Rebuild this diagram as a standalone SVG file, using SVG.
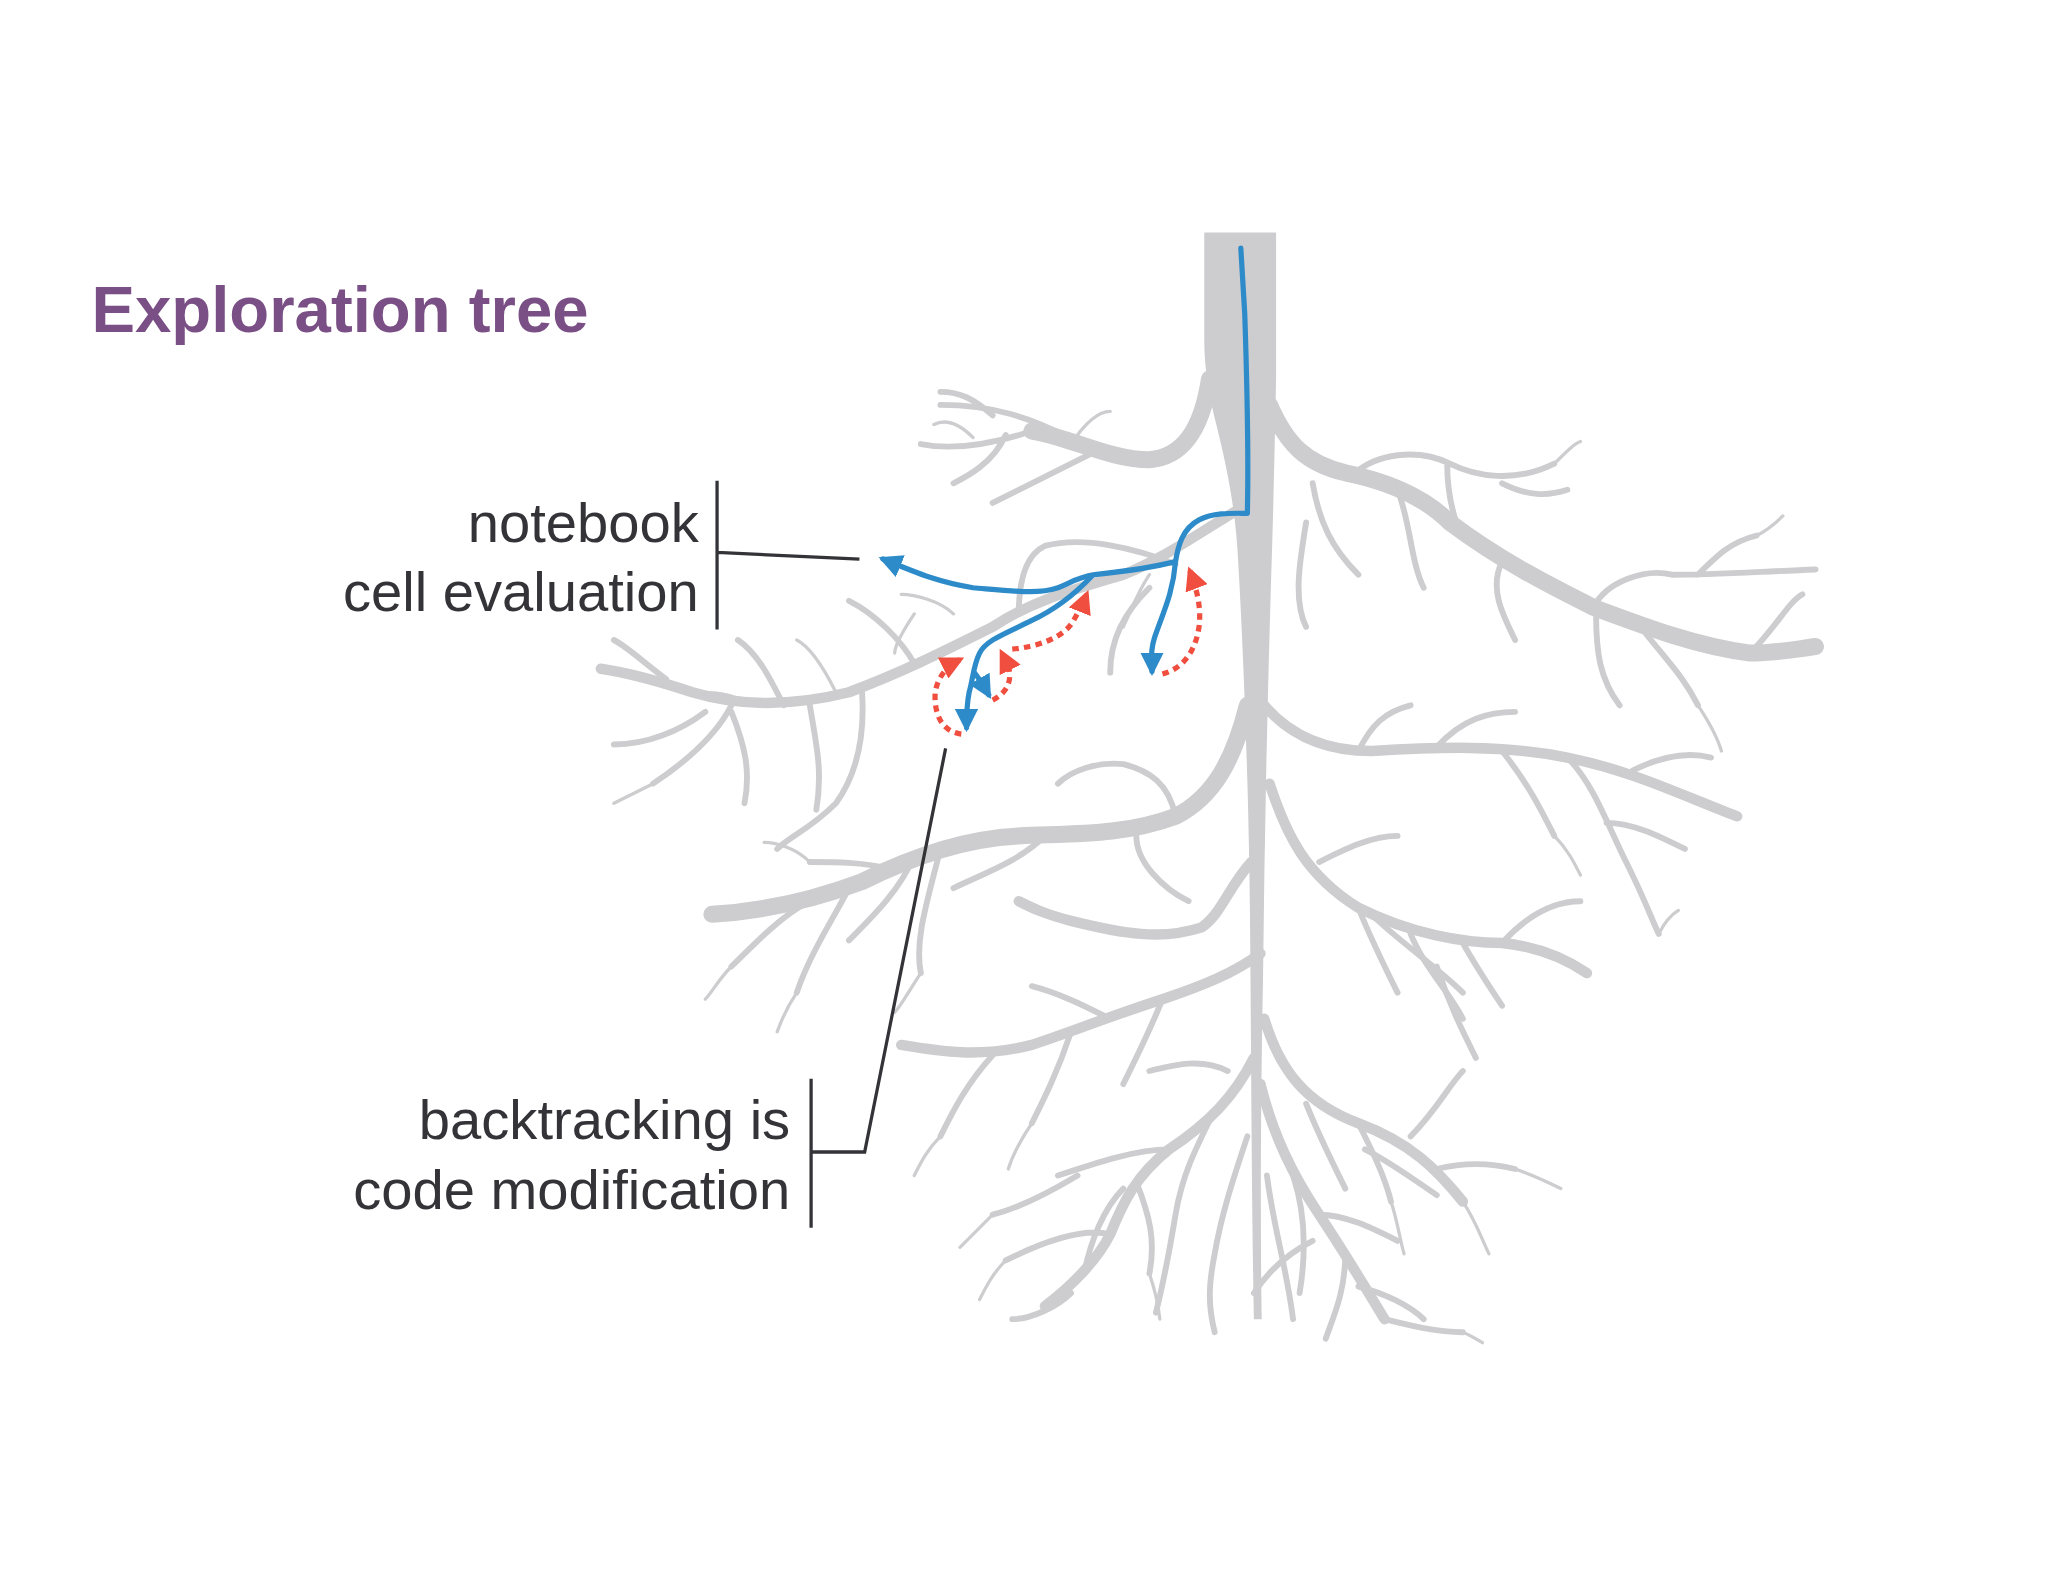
<svg xmlns="http://www.w3.org/2000/svg" width="2048" height="1582" viewBox="0 0 2048 1582">
<defs>
<style>
.g{fill:none;stroke:#cdcdcf;stroke-linecap:round;stroke-linejoin:round}
.w1{stroke-width:13}.w2{stroke-width:8}.w3{stroke-width:4.5}.w4{stroke-width:2.5}
.blue{fill:none;stroke:#2e8bc9;stroke-width:4;stroke-linecap:round;stroke-linejoin:round}
.red{fill:none;stroke:#f04e3e;stroke-width:4;stroke-dasharray:5 4}
.lbl{font-family:"Liberation Sans",Arial,sans-serif;font-size:43px;fill:#333338;text-anchor:end}
.ln{fill:none;stroke:#333338;stroke-width:2.5}
</style>
<marker id="ab" viewBox="0 0 10 10" refX="8" refY="5" markerWidth="4.5" markerHeight="4.5" orient="auto" markerUnits="strokeWidth"><path d="M0,0L10,5L0,10z" fill="#2e8bc9"/></marker>
<marker id="ar" viewBox="0 0 10 10" refX="8" refY="5" markerWidth="4.5" markerHeight="4.5" orient="auto" markerUnits="strokeWidth"><path d="M0,0L10,5L0,10z" fill="#f04e3e"/></marker>
</defs>
<rect width="2048" height="1582" fill="#fff"/>
<g transform="scale(1.30612)">
<text x="70" y="254" font-family="Liberation Sans,Arial,sans-serif" font-weight="bold" font-size="50" fill="#7a4f85">Exploration tree</text>
<g id="tree">
<path d="M922,178H977V290C976,340 975,390 973,450C970,550 968,650 967,750C965,850 965,950 966,1010L960,1010C958,900 958,800 957,700C956,600 952,500 948,430C946,390 940,360 930,320C925,300 922,280 922,260Z" fill="#cdcdcf"/>
<path class="g w1" d="M926,290C920,330 905,350 880,352C850,352 820,335 790,330"/>
<path class="g w3" d="M820,336C790,320 760,310 720,310M790,330C760,340 730,345 705,340M840,345C810,360 780,375 760,385M760,318C745,305 735,300 720,300M770,333C760,355 740,365 730,370"/>
<path class="g w1" d="M972,310C985,340 1000,355 1030,362C1060,368 1090,380 1110,400C1150,430 1190,450 1220,465C1260,480 1300,495 1340,500C1360,500 1375,497 1390,495"/>
<path class="g w3" d="M1040,360C1060,345 1090,345 1110,355C1130,365 1160,370 1190,355M1108,355C1108,370 1110,385 1115,400M1150,370C1170,380 1185,380 1200,375M1220,465C1230,445 1260,435 1280,440C1310,440 1340,438 1390,436M1300,440C1315,425 1325,415 1345,410M1340,500C1360,480 1370,460 1380,455M1222,470C1222,500 1225,520 1240,540M1150,430C1140,450 1150,470 1160,490M1260,485C1280,510 1290,520 1300,540"/>
<path class="g w3" d="M1005,370C1010,400 1020,420 1040,440M1070,375C1080,400 1080,430 1090,450M1000,400C995,430 990,460 1000,480"/>
<path class="g w2" d="M945,392C915,410 890,428 860,440C820,452 790,460 760,480C720,500 690,515 650,530C610,540 570,542 530,530C500,520 480,515 460,512"/>
<path class="g w3" d="M780,470C780,445 785,425 800,418C830,410 870,420 900,432M660,530C662,560 658,590 640,615C620,635 605,640 595,650M560,540C550,560 530,580 500,600M600,540C590,520 580,500 565,490M510,520C490,505 480,495 470,490M700,508C690,490 670,470 650,460M620,540C625,570 630,590 625,620M560,545C570,570 575,590 570,615M540,545C520,560 495,570 470,570M880,450C860,470 850,490 850,515"/>
<path class="g w1" d="M955,540C945,580 930,610 900,625C860,640 820,638 780,640C740,642 700,655 660,675C620,690 580,698 545,700"/>
<path class="g w3" d="M900,625C895,600 880,590 860,585C840,583 820,590 810,600M800,640C780,660 750,670 730,680M700,655C690,680 670,700 650,720M650,680C640,700 620,730 610,760M620,690C600,700 580,720 560,740M720,650C710,690 700,720 705,745M870,640C870,660 890,680 910,690M680,665C660,660 640,660 620,660"/>
<path class="g w2" d="M968,540C985,560 1010,575 1050,575C1100,572 1150,570 1200,580C1250,590 1290,610 1330,625"/>
<path class="g w3" d="M1150,575C1170,600 1180,620 1190,640M1200,580C1220,600 1230,630 1245,660C1260,690 1265,705 1270,715M1250,590C1270,580 1290,575 1310,580M1040,575C1050,555 1060,545 1080,540M1100,572C1120,550 1140,545 1160,545M1230,630C1250,630 1270,640 1290,650"/>
<path class="g w2" d="M972,600C985,640 1000,670 1040,695C1080,715 1120,722 1150,722C1180,725 1200,735 1215,745"/>
<path class="g w3" d="M1040,695C1050,720 1060,740 1070,760M1120,722C1130,740 1140,755 1150,770M1150,722C1170,700 1190,690 1210,690M1080,715C1090,740 1110,760 1120,780M1010,660C1030,650 1050,640 1070,640"/>
<path class="g w2" d="M958,660C940,680 935,700 920,710C890,720 860,715 820,705C800,700 790,695 780,690"/>
<path class="g w2" d="M965,730C945,745 920,755 890,765C850,778 820,790 790,800C750,810 720,805 690,800"/>
<path class="g w3" d="M850,780C830,770 810,760 790,755M760,808C740,830 730,850 720,870M820,790C810,820 800,840 790,860M890,765C880,790 870,810 860,830"/>
<path class="g w2" d="M968,780C980,820 1000,845 1040,860C1080,875 1100,895 1120,920"/>
<path class="g w3" d="M1040,860C1050,880 1060,900 1065,920M1000,845C1010,870 1020,890 1030,910M1100,895C1120,890 1140,890 1160,895M1080,870C1100,850 1110,830 1120,820M1050,700C1070,720 1100,740 1120,760M1100,740C1110,770 1120,790 1130,810"/>
<path class="g w2" d="M960,810C945,840 925,860 895,880C870,900 860,920 850,945C840,965 820,985 800,1000"/>
<path class="g w3" d="M895,880C870,880 840,890 810,900M850,945C830,940 800,950 770,965M870,905C880,930 885,950 880,975M820,990C810,1000 790,1010 775,1010M930,850C915,880 905,900 900,930M900,930C895,960 890,985 885,1005M825,900C800,915 780,925 760,930M940,820C920,810 900,815 880,820M860,910C845,925 835,950 830,975"/>
<path class="g w2" d="M965,830C975,870 990,900 1010,930C1030,960 1045,985 1060,1010"/>
<path class="g w3" d="M1010,930C1030,930 1050,940 1070,950M1030,960C1030,990 1020,1010 1015,1025M1060,1010C1080,1015 1100,1020 1120,1020M990,900C1000,930 1000,960 995,990M970,900C975,940 985,970 990,1010M1040,985C1060,990 1080,1000 1090,1010M955,870C945,900 935,930 930,960M930,960C925,985 925,1000 930,1020M1045,880C1065,890 1085,905 1100,915M1005,950C985,960 970,975 960,990"/>
<path class="g w4" d="M745,335C735,325 725,320 715,325M820,340C830,325 840,315 850,315M880,440C870,455 865,470 860,480M730,470C720,460 700,455 690,455M700,470C690,485 685,495 685,500M640,530C630,510 620,495 610,490M575,540C560,530 545,530 530,530M500,600C490,605 480,610 470,615M620,660C610,650 595,645 585,645M560,740C550,750 545,760 540,765M610,760C600,775 597,785 595,790M705,745C695,760 690,770 685,775M1190,640C1200,650 1205,660 1210,670M1300,540C1310,555 1315,565 1318,575M1345,410C1355,405 1360,400 1365,395M1190,355C1200,345 1205,340 1210,338M1270,715C1275,705 1280,700 1285,697M720,870C710,880 705,890 700,900M790,860C780,875 775,885 772,895M1120,920C1130,935 1135,950 1140,960M1160,895C1175,900 1185,905 1195,910M1065,920C1070,935 1072,950 1075,960M770,965C760,975 755,985 750,995M1120,1020C1125,1022 1130,1025 1135,1028M880,975C885,990 887,1000 888,1010M760,930C750,940 742,948 735,955"/>
</g>
<g id="connectors">
<path class="blue" d="M950,190L953,240C955,300 956,350 955,393C945,393 930,392 918,398C905,405 902,418 900,430C880,435 865,437 838,440C825,442 820,446 810,450C795,455 780,453 745,450C720,446 705,440 676,428" marker-end="url(#ab)"/>
<path class="blue" d="M900,430C898,455 890,470 884,488C880,500 882,508 882,514" marker-end="url(#ab)"/>
<path class="blue" d="M836,441C820,458 805,468 790,475C770,485 755,490 750,500C745,510 745,520 742,530C740,540 740,548 740,557" marker-end="url(#ab)"/>
<path class="blue" d="M746,515C750,520 753,525 757,532" marker-end="url(#ab)"/>
<path class="red" d="M890,516C905,512 915,500 918,480C920,465 916,450 911,437" marker-end="url(#ar)"/>
<path class="red" d="M736,562C720,560 715,545 716,530C718,518 725,510 735,505" marker-end="url(#ar)"/>
<path class="red" d="M760,536C772,530 775,520 772,510C770,505 768,502 767,500" marker-end="url(#ar)"/>
<path class="red" d="M775,497C795,495 815,488 822,475C826,468 830,460 832,455" marker-end="url(#ar)"/>
</g>
<g id="label-notebook">
<text class="lbl" x="535" y="415">notebook</text>
<text class="lbl" x="535" y="468">cell evaluation</text>
<path class="ln" d="M549,368V482M549,423L658,428"/>
</g>
<g id="label-backtracking">
<text class="lbl" x="605" y="872">backtracking is</text>
<text class="lbl" x="605" y="926">code modification</text>
<path class="ln" d="M621,826V940M621,882H662L724,573"/>
</g>
</g>
</svg>
